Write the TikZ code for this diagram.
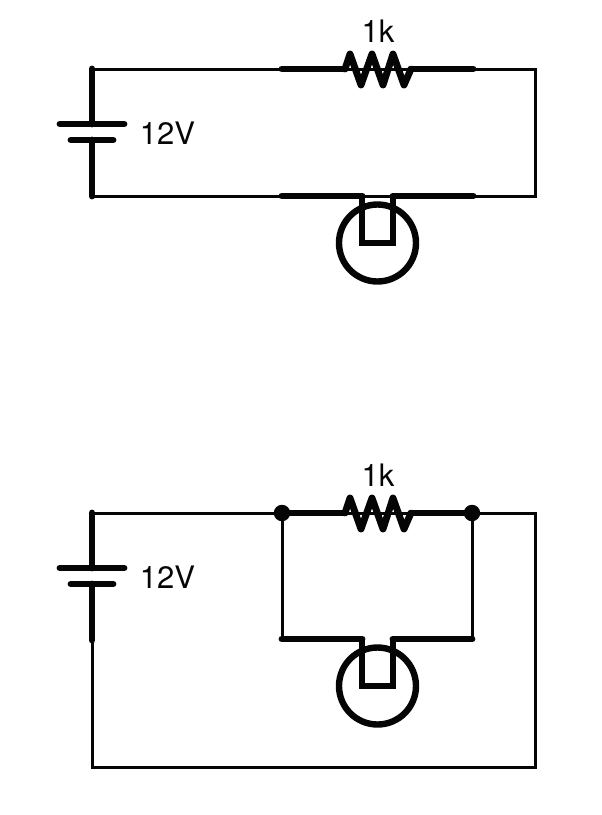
\documentclass[tikz,border=0pt]{standalone}
\usepackage{fontspec}
\setmainfont{TeX Gyre Heros}
\definecolor{ink}{gray}{0.02}
\tikzset{
  x=1pt,y=-1pt,
  wire/.style={draw=ink,line width=3.0pt,line join=miter,line cap=rect},
  heavy/.style={draw=ink,line width=6.9pt,line cap=round,line join=miter},
  lab/.style={font=\fontsize{31}{31}\selectfont,text=ink,inner sep=0pt},
  junction/.style={circle,fill=ink,draw=none,minimum size=16.5pt,inner sep=0pt},
  resistor/.pic={
    \coordinate (-w) at (-33,0);
    \coordinate (-e) at (33,0);
    \draw[heavy,line join=round] (-w) -- (-28,-15) -- (-17,16) -- (-6,-15) -- (5,16) -- (15,-15) -- (26,16) -- (-e);
  },
  lamp/.pic={
    \coordinate (-w) at (-15.5,0);
    \coordinate (-e) at (15.5,0);
    \draw[draw=ink,line width=6.4pt] (0,47) circle[radius=38.5];
    \draw[heavy,line cap=butt] (-w) -- (-15.5,47) -- (15.5,47) -- (-e);
  },
  battery/.pic={
    \coordinate (-n) at (0,0);
    \coordinate (-s) at (0,16);
    \draw[heavy] (-32,0) -- (32,0);
    \draw[heavy] (-21,16) -- (21,16);
  }
}
\begin{document}
\begin{tikzpicture}
\useasboundingbox (0,0) rectangle (602,815);
% ---------- upper circuit
\coordinate (a1) at (92,69);
\coordinate (a2) at (535,69);
\coordinate (a3) at (535,196);
\coordinate (a4) at (92,196);
\coordinate (a5) at (282,69);
\coordinate (a6) at (473,69);
\coordinate (a7) at (282,196);
\coordinate (a8) at (473,196);
\draw[wire] (a1) -- (a2) -- (a3) -- (a4);
\pic (ab) at (92,124) {battery};
\pic (ar) at (378,69) {resistor};
\pic (al) at (377.5,196) {lamp};
\draw[heavy] (a1) -- (ab-n);
\draw[heavy] (ab-s) -- (a4);
\draw[heavy] (a5) -- (ar-w);
\draw[heavy] (ar-e) -- (a6);
\draw[heavy] (a7) -- (al-w);
\draw[heavy] (al-e) -- (a8);
\node[lab] (av) at (167.5,133.5) {12V};
\node[lab] (ak) at (378,31) {1k};
% ---------- lower circuit
\coordinate (b1) at (92,513);
\coordinate (b2) at (535,513);
\coordinate (b3) at (535,767);
\coordinate (b4) at (92,767);
\coordinate (b5) at (92,640);
\node[junction] (bj1) at (282,513) {};
\node[junction] (bj2) at (472,513) {};
\coordinate (b7) at (282,639);
\coordinate (b8) at (472,639);
\draw[wire] (b1) -- (b2) -- (b3) -- (b4) -- (b5);
\draw[wire] (bj1.center) -- (b7);
\draw[wire] (bj2.center) -- (b8);
\pic (bb) at (92,568) {battery};
\pic (br) at (378,513) {resistor};
\pic (bl) at (377.5,639) {lamp};
\draw[heavy] (b1) -- (bb-n);
\draw[heavy] (bb-s) -- (b5);
\draw[heavy] (bj1) -- (br-w);
\draw[heavy] (br-e) -- (bj2);
\draw[heavy] (b7) -- (bl-w);
\draw[heavy] (bl-e) -- (b8);
\node[lab] (bv) at (167.5,577.5) {12V};
\node[lab] (bk) at (378,475) {1k};
\end{tikzpicture}
\end{document}
